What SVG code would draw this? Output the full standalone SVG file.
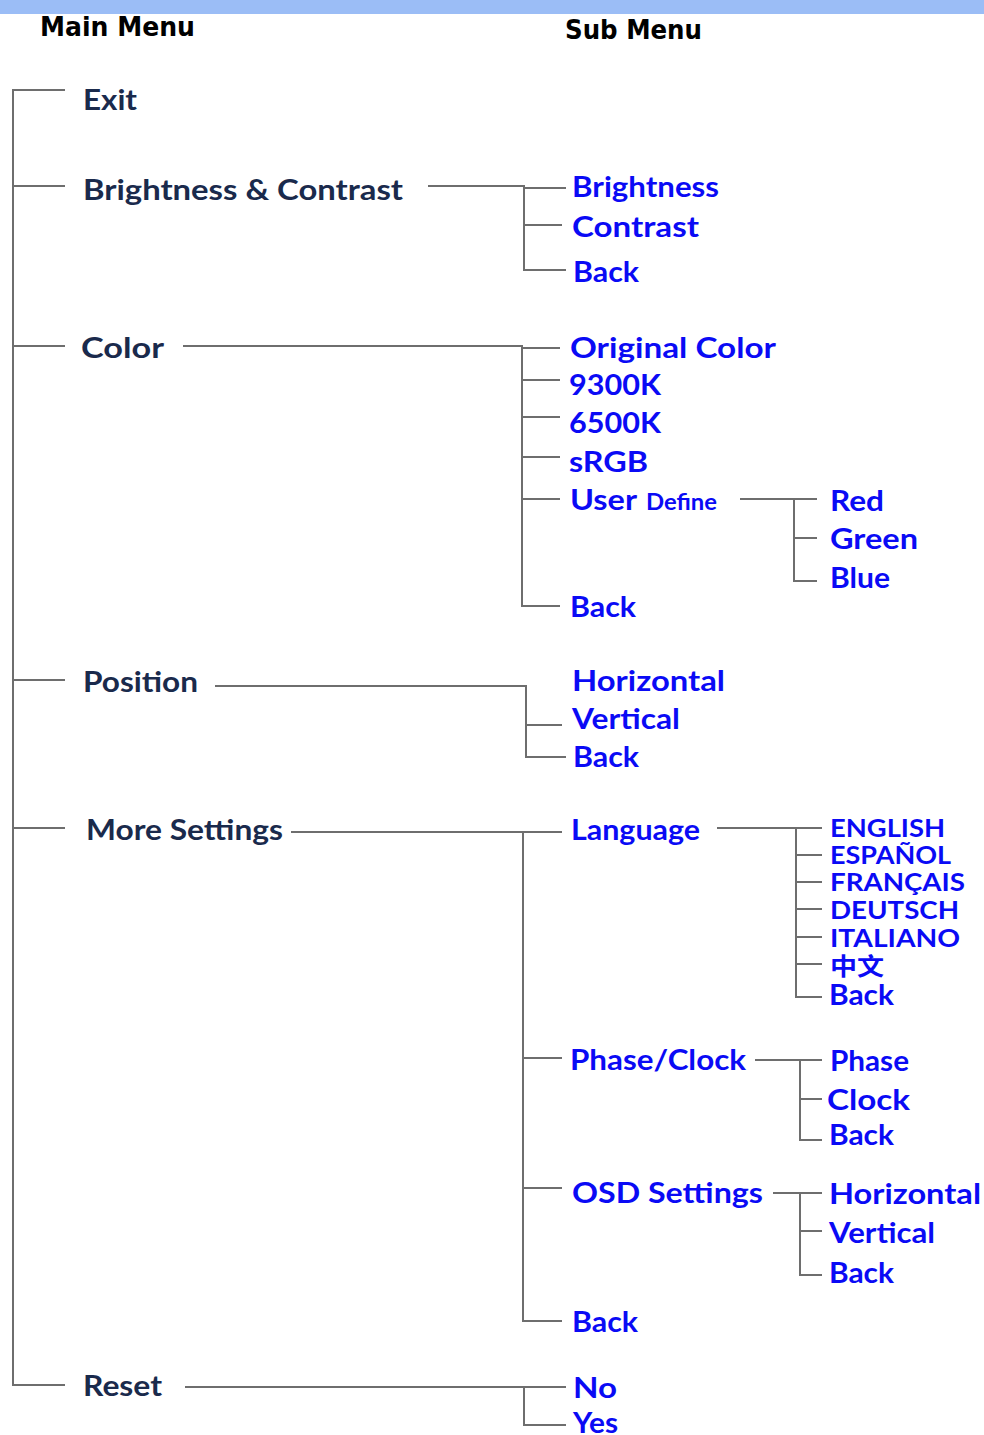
<svg xmlns="http://www.w3.org/2000/svg" width="984" height="1435" viewBox="0 0 984 1435">
<style>
.hd{font-family:"DejaVu Sans",Lato,sans-serif;font-weight:700;font-size:27px;fill:#000}
.m{font-family:Lato,"Open Sans",sans-serif;font-weight:700;font-size:29px;fill:#1a2a4c}
.s{font-family:Lato,"Open Sans",sans-serif;font-weight:700;font-size:28px;fill:#0a0af5}
.l{font-family:Lato,"Open Sans",sans-serif;font-weight:700;font-size:24px;fill:#0a0af5}
.c{font-family:"Noto Sans CJK SC",sans-serif;font-weight:700;font-size:24px;fill:#0a0af5}
.ln{fill:none;stroke:#6e6e6e;stroke-width:2}
</style>
<rect x="0" y="0" width="984" height="14" fill="#9bbdf6"/>
<g id="headers">
<text class="hd" x="40" y="36" textLength="155" lengthAdjust="spacingAndGlyphs">Main Menu</text>
<text class="hd" x="565" y="39" textLength="137" lengthAdjust="spacingAndGlyphs">Sub Menu</text>
</g>
<g id="connectors">
<path class="ln" d="M65 90H13V1385H65"/>
<path class="ln" d="M13 186H65M13 346H65M13 680H65M13 828H65"/>
<path class="ln" d="M428 186H524V270H566M524 188H566M524 225H562"/>
<path class="ln" d="M183 346H522V606H560M522 348H560M522 380H560M522 417H560M522 457H560M522 499H560"/>
<path class="ln" d="M740 499H817M794 499V581H817M794 538H817"/>
<path class="ln" d="M215 686H526V757H566M526 725H562"/>
<path class="ln" d="M291 832H562M523 832V1321H562M523 1058H562M523 1188H562"/>
<path class="ln" d="M717 828H822M796 828V997H822M796 855H822M796 882H822M796 909H822M796 937H822M796 964H822"/>
<path class="ln" d="M755 1060H822M800 1060V1140H822M800 1099H822"/>
<path class="ln" d="M773 1193H822M800 1193V1275H822M800 1231H822"/>
<path class="ln" d="M185 1387H566M524 1387V1425H566"/>
</g>
<g id="exit"><text class="m" x="83" y="110" textLength="54" lengthAdjust="spacingAndGlyphs">Exit</text></g>
<g id="brightness-contrast">
<text class="m" x="83" y="200" textLength="320" lengthAdjust="spacingAndGlyphs">Brightness &amp; Contrast</text>
</g>
<g id="bc-brightness"><text class="s" x="572" y="197" textLength="147" lengthAdjust="spacingAndGlyphs">Brightness</text></g>
<g id="bc-contrast"><text class="s" x="572" y="237" textLength="127" lengthAdjust="spacingAndGlyphs">Contrast</text></g>
<g id="bc-back"><text class="s" x="573" y="282" textLength="66" lengthAdjust="spacingAndGlyphs">Back</text></g>
<g id="color"><text class="m" x="81" y="358" textLength="83" lengthAdjust="spacingAndGlyphs">Color</text></g>
<g id="c-original"><text class="s" x="570" y="358" textLength="206" lengthAdjust="spacingAndGlyphs">Original Color</text></g>
<g id="c-9300"><text class="s" x="569" y="395" textLength="92" lengthAdjust="spacingAndGlyphs">9300K</text></g>
<g id="c-6500"><text class="s" x="569" y="433" textLength="92" lengthAdjust="spacingAndGlyphs">6500K</text></g>
<g id="c-srgb"><text class="s" x="569" y="472" textLength="79" lengthAdjust="spacingAndGlyphs">sRGB</text></g>
<g id="c-user">
<text class="s" x="570" y="510" textLength="67" lengthAdjust="spacingAndGlyphs">User</text>
<text class="s" x="646" y="510" style="font-size:23px" textLength="71" lengthAdjust="spacingAndGlyphs">Define</text>
</g>
<g id="u-red"><text class="s" x="830" y="511" textLength="54" lengthAdjust="spacingAndGlyphs">Red</text></g>
<g id="u-green"><text class="s" x="830" y="549" textLength="88" lengthAdjust="spacingAndGlyphs">Green</text></g>
<g id="u-blue"><text class="s" x="830" y="588" textLength="60" lengthAdjust="spacingAndGlyphs">Blue</text></g>
<g id="c-back"><text class="s" x="570" y="617" textLength="66" lengthAdjust="spacingAndGlyphs">Back</text></g>
<g id="position"><text class="m" x="83" y="692" textLength="115" lengthAdjust="spacingAndGlyphs">Position</text></g>
<g id="p-horizontal"><text class="s" x="572" y="691" textLength="153" lengthAdjust="spacingAndGlyphs">Horizontal</text></g>
<g id="p-vertical"><text class="s" x="572" y="729" textLength="108" lengthAdjust="spacingAndGlyphs">Vertical</text></g>
<g id="p-back"><text class="s" x="573" y="767" textLength="66" lengthAdjust="spacingAndGlyphs">Back</text></g>
<g id="more-settings"><text class="m" x="86" y="840" textLength="197" lengthAdjust="spacingAndGlyphs">More Settings</text></g>
<g id="ms-language"><text class="s" x="571" y="840" textLength="129" lengthAdjust="spacingAndGlyphs">Language</text></g>
<g id="lang-en"><text class="l" x="830" y="837" textLength="115" lengthAdjust="spacingAndGlyphs">ENGLISH</text></g>
<g id="lang-es"><text class="l" x="830" y="864" textLength="121" lengthAdjust="spacingAndGlyphs">ESPAÑOL</text></g>
<g id="lang-fr"><text class="l" x="830" y="891" textLength="135" lengthAdjust="spacingAndGlyphs">FRANÇAIS</text></g>
<g id="lang-de"><text class="l" x="830" y="919" textLength="129" lengthAdjust="spacingAndGlyphs">DEUTSCH</text></g>
<g id="lang-it"><text class="l" x="830" y="947" textLength="130" lengthAdjust="spacingAndGlyphs">ITALIANO</text></g>
<g id="lang-zh"><text class="c" x="830" y="975" textLength="54" lengthAdjust="spacingAndGlyphs">中文</text></g>
<g id="lang-back"><text class="s" x="829" y="1005" textLength="65" lengthAdjust="spacingAndGlyphs">Back</text></g>
<g id="ms-phaseclock"><text class="s" x="570" y="1070" textLength="176" lengthAdjust="spacingAndGlyphs">Phase/Clock</text></g>
<g id="pc-phase"><text class="s" x="830" y="1071" textLength="79" lengthAdjust="spacingAndGlyphs">Phase</text></g>
<g id="pc-clock"><text class="s" x="827" y="1110" textLength="83" lengthAdjust="spacingAndGlyphs">Clock</text></g>
<g id="pc-back"><text class="s" x="829" y="1145" textLength="65" lengthAdjust="spacingAndGlyphs">Back</text></g>
<g id="ms-osd"><text class="s" x="572" y="1203" textLength="191" lengthAdjust="spacingAndGlyphs">OSD Settings</text></g>
<g id="osd-horizontal"><text class="s" x="829" y="1204" textLength="152" lengthAdjust="spacingAndGlyphs">Horizontal</text></g>
<g id="osd-vertical"><text class="s" x="829" y="1243" textLength="106" lengthAdjust="spacingAndGlyphs">Vertical</text></g>
<g id="osd-back"><text class="s" x="829" y="1283" textLength="65" lengthAdjust="spacingAndGlyphs">Back</text></g>
<g id="ms-back"><text class="s" x="572" y="1332" textLength="66" lengthAdjust="spacingAndGlyphs">Back</text></g>
<g id="reset"><text class="m" x="83" y="1396" textLength="79" lengthAdjust="spacingAndGlyphs">Reset</text></g>
<g id="r-no"><text class="s" x="573" y="1398" textLength="44" lengthAdjust="spacingAndGlyphs">No</text></g>
<g id="r-yes"><text class="s" x="573" y="1433" textLength="45" lengthAdjust="spacingAndGlyphs">Yes</text></g>
</svg>
